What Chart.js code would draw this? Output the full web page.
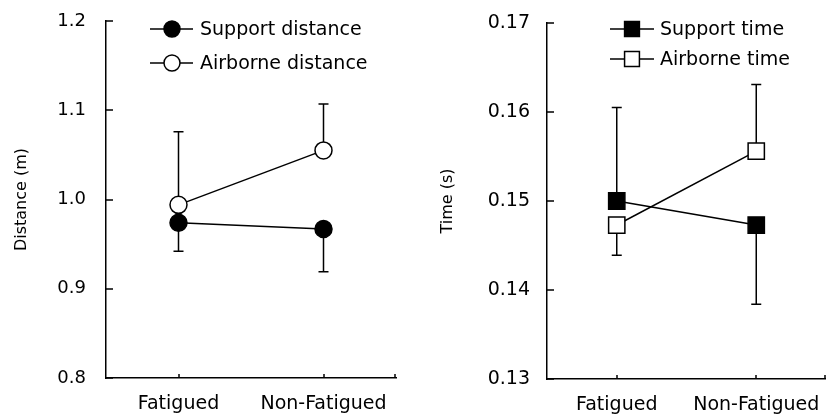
<!DOCTYPE html>
<html><head><meta charset="utf-8">
<script src="https://cdn.jsdelivr.net/npm/chart.js@4"></script>
<style>
html,body{margin:0;padding:0;background:#fff;width:826px;height:416px;overflow:hidden}
#l{position:absolute;left:0;top:0}
#r{position:absolute;left:413px;top:0}
</style></head><body>
<canvas id="l" width="413" height="416"></canvas>
<canvas id="r" width="413" height="416"></canvas>
<script>
// ---- data ----
const categories = ['Fatigued', 'Non-Fatigued'];

const supportDistance = [0.974, 0.967];
const supportDistanceErrEnd = [0.942, 0.919];
const airborneDistance = [0.994, 1.055];
const airborneDistanceErrEnd = [1.076, 1.107];
const distanceTicks = [0.8, 0.9, 1.0, 1.1, 1.2];

const supportTime = [0.1500, 0.1473];
const supportTimeErrEnd = [0.1605, 0.1384];
const airborneTime = [0.1473, 0.1556];
const airborneTimeErrEnd = [0.1439, 0.1631];
const timeTicks = [0.13, 0.14, 0.15, 0.16, 0.17];

// ---- styling ----
Chart.defaults.font.family = "'DejaVu Sans', sans-serif";
Chart.defaults.color = '#000';

const fixRight = {
  id: 'fixRight',
  afterLayout(chart, args, opts) {
    if (opts.right == null) return;
    const x = chart.scales.x;
    chart.chartArea.right = opts.right;
    chart.chartArea.width = opts.right - chart.chartArea.left;
    x.right = opts.right;
    x.width = x.right - x.left;
    x.configure();
  }
};

const errorBars = {
  id: 'errorBars',
  beforeDatasetsDraw(chart) {
    const ctx = chart.ctx, y = chart.scales.y;
    ctx.save();
    ctx.strokeStyle = '#000';
    ctx.lineWidth = 1.5;
    chart.data.datasets.forEach((ds, i) => {
      const meta = chart.getDatasetMeta(i);
      meta.data.forEach((pt, j) => {
        const end = ds.errEnd[j];
        if (end == null) return;
        const ye = y.getPixelForValue(end);
        ctx.beginPath();
        ctx.moveTo(pt.x, pt.y);
        ctx.lineTo(pt.x, ye);
        ctx.moveTo(pt.x - 5, ye);
        ctx.lineTo(pt.x + 5, ye);
        ctx.stroke();
      });
    });
    ctx.restore();
  }
};

const innerTicks = {
  id: 'innerTicks',
  afterDraw(chart) {
    const ctx = chart.ctx, xs = chart.scales.x, ys = chart.scales.y, a = chart.chartArea;
    ctx.save();
    ctx.strokeStyle = '#000';
    ctx.lineWidth = 1.5;
    ctx.beginPath();
    ys.ticks.forEach(t => {
      const py = Math.round(ys.getPixelForValue(t.value));
      ctx.moveTo(a.left, py);
      ctx.lineTo(a.left + 7, py);
    });
    const xt = xs.ticks.map((t, i) => xs.getPixelForTick(i));
    xt.push(a.right - 1);
    xt.forEach(px => {
      ctx.moveTo(Math.round(px), a.bottom);
      ctx.lineTo(Math.round(px), a.bottom - 4);
    });
    ctx.stroke();
    ctx.restore();
  }
};

const lineLegend = {
  id: 'lineLegend',
  afterDraw(chart, args, opts) {
    const ctx = chart.ctx;
    ctx.save();
    chart.data.datasets.forEach((ds, i) => {
      const y = opts.rows[i];
      ctx.strokeStyle = '#000';
      ctx.lineWidth = 1.5;
      ctx.beginPath();
      ctx.moveTo(opts.x0, y);
      ctx.lineTo(opts.x1, y);
      ctx.stroke();
      ctx.fillStyle = ds.pointBackgroundColor;
      ctx.beginPath();
      if (ds.pointStyle === 'circle') {
        ctx.arc(opts.xm, y, opts.radius, 0, Math.PI * 2);
      } else {
        const s = Math.SQRT1_2 * opts.radius;
        ctx.rect(opts.xm - s, y - s, 2 * s, 2 * s);
      }
      ctx.fill();
      ctx.stroke();
      ctx.fillStyle = '#000';
      ctx.font = "19px 'DejaVu Sans', sans-serif";
      ctx.textBaseline = 'middle';
      ctx.textAlign = 'left';
      ctx.fillText(ds.label, opts.tx, y + 1);
    });
    ctx.restore();
  }
};

function makeDataset(label, data, errEnd, style, fill, radius) {
  return {
    label, data, errEnd,
    borderColor: '#000', borderWidth: 1.5,
    pointStyle: style, pointRadius: radius, pointHoverRadius: radius,
    pointBackgroundColor: fill, pointBorderColor: '#000', pointBorderWidth: 1.5,
    fill: false, tension: 0
  };
}

function zeroPad(s) { s.paddingTop = 0; s.paddingBottom = 0; s.paddingLeft = 0; s.paddingRight = 0; }

function makeOptions(ticksArr, decimals, title, yWidth, xHeight, pad, tickPad, tickSize, areaRight, legendOpts) {
  return {
    responsive: false,
    animation: false,
    layout: { padding: pad },
    plugins: {
      legend: { display: false },
      tooltip: { enabled: false },
      lineLegend: legendOpts,
      fixRight: { right: areaRight }
    },
    scales: {
      x: {
        type: 'category', offset: true,
        grid: { display: false, drawTicks: false },
        border: { color: '#000', width: 1.5 },
        ticks: { font: { size: 19 }, padding: 15, color: '#000', maxRotation: 0 },
        afterFit(s) { s.height = xHeight; zeroPad(s); }
      },
      y: {
        min: ticksArr[0], max: ticksArr[ticksArr.length - 1],
        grid: { display: false, drawTicks: false },
        border: { color: '#000', width: 1.5 },
        afterBuildTicks(s) { s.ticks = ticksArr.map(v => ({ value: v })); },
        ticks: {
          font: { size: tickSize }, padding: tickPad, color: '#000',
          callback: v => Number(v).toFixed(decimals)
        },
        title: { display: true, text: title, font: { size: 16 }, color: '#000', padding: 4 },
        afterFit(s) { s.width = yWidth; zeroPad(s); }
      }
    }
  };
}

new Chart(document.getElementById('l'), {
  type: 'line',
  data: {
    labels: categories,
    datasets: [
      makeDataset('Support distance', supportDistance, supportDistanceErrEnd, 'circle', '#000', 8.5),
      makeDataset('Airborne distance', airborneDistance, airborneDistanceErrEnd, 'circle', '#fff', 8.5)
    ]
  },
  options: makeOptions(distanceTicks, 1, 'Distance (m)', 98, 38,
    { left: 8, right: 17, top: 21, bottom: 0 }, 20, 18, 396,
    { x0: 150, x1: 193, xm: 172, tx: 200, rows: [29, 63], radius: 8 }),
  plugins: [fixRight, errorBars, innerTicks, lineLegend]
});

new Chart(document.getElementById('r'), {
  type: 'line',
  data: {
    labels: categories,
    datasets: [
      makeDataset('Support time', supportTime, supportTimeErrEnd, 'rect', '#000', 11.5),
      makeDataset('Airborne time', airborneTime, airborneTimeErrEnd, 'rect', '#fff', 11.5)
    ]
  },
  options: makeOptions(timeTicks, 2, 'Time (s)', 113, 37,
    { left: 21, right: 0, top: 23, bottom: 0 }, 17, 19, 413,
    { x0: 197, x1: 241, xm: 219, tx: 247, rows: [29, 59], radius: 10.5 }),
  plugins: [fixRight, errorBars, innerTicks, lineLegend]
});
</script>
</body></html>
